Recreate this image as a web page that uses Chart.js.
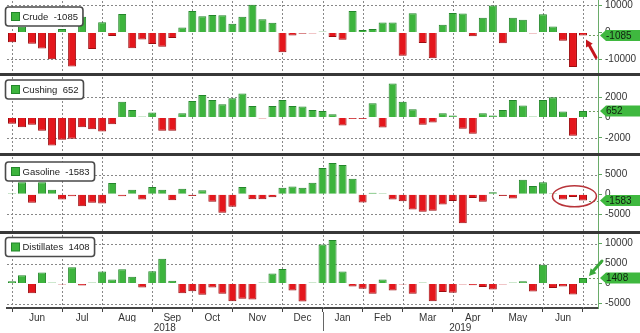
<!DOCTYPE html>
<html><head><meta charset="utf-8">
<script src="https://cdn.jsdelivr.net/npm/chart.js@4.4.1/dist/chart.umd.min.js"></script>
<style>
html,body{margin:0;padding:0;background:#fff;width:640px;height:333px;overflow:hidden;}
.wrap{position:absolute;left:0;width:640px;}
.sep{position:absolute;left:0;width:640px;height:3px;background:#383838;}
</style></head><body>
<div class="wrap" style="top:0;height:73px"><canvas id="c1"></canvas></div>
<div class="sep" style="top:73px"></div>
<div class="wrap" style="top:76px;height:77px"><canvas id="c2"></canvas></div>
<div class="sep" style="top:153px"></div>
<div class="wrap" style="top:156px;height:75px"><canvas id="c3"></canvas></div>
<div class="sep" style="top:231px"></div>
<div class="wrap" style="top:234px;height:99px"><canvas id="c4"></canvas></div>
<script>
// ---- DATA (thousand barrels, weekly change) ----
const weeks = ['2018-05-25','2018-06-01','2018-06-08','2018-06-15','2018-06-22','2018-06-29',
'2018-07-06','2018-07-13','2018-07-20','2018-07-27','2018-08-03','2018-08-10','2018-08-17','2018-08-24','2018-08-31',
'2018-09-07','2018-09-14','2018-09-21','2018-09-28','2018-10-05','2018-10-12','2018-10-19','2018-10-26',
'2018-11-02','2018-11-09','2018-11-16','2018-11-23','2018-11-30','2018-12-07','2018-12-14','2018-12-21','2018-12-28',
'2019-01-04','2019-01-11','2019-01-18','2019-01-25','2019-02-01','2019-02-08','2019-02-15','2019-02-22',
'2019-03-01','2019-03-08','2019-03-15','2019-03-22','2019-03-29','2019-04-05','2019-04-12','2019-04-19','2019-04-26',
'2019-05-03','2019-05-10','2019-05-17','2019-05-24','2019-05-31','2019-06-07','2019-06-14','2019-06-21','2019-06-28'];

const crude = [-3620,2075,-4143,-5914,-9891,1245,-12633,5836,-6147,3803,-1352,6805,-5836,-2566,-4302,
-5296,-2057,1852,7975,5987,6490,6346,3217,5783,10270,4851,3577,-7323,-1168,-497,-46,7,
-1680,-2683,7970,919,1255,3633,3672,-8647,7069,-3862,-9589,2800,7238,7029,-1396,5479,9934,
-3963,5431,4740,-282,6771,2207,-3106,-12788,-1085];

const cushing = [-620,-950,-720,-1300,-2750,-2200,-2100,-950,-1150,-1370,-650,1570,750,50,490,
-1300,-1300,420,1630,2220,1730,1300,1900,2380,1140,-100,1140,1730,1140,1080,750,650,
330,-780,-150,-150,1400,-980,3360,1570,820,-720,-490,420,200,-1100,-1600,420,200,
750,1730,1180,20,1730,2000,590,-1790,652];

const gasoline = [250,3080,-2170,3080,1170,-1330,-500,-3000,-2170,-2330,2830,-500,1170,-1330,1830,
1170,-1500,1420,-420,1000,-1920,-4670,-3170,1830,-1250,-1250,-750,1670,2000,1670,2920,6670,
7920,7420,3920,-2080,400,250,-1330,-1750,-3830,-4420,-4170,-2580,-1670,-7330,-920,-1920,500,
-420,-1080,3670,2080,3080,100,-1330,-670,-1583];

const distillates = [600,2100,-2400,2800,50,-50,4100,-500,50,3000,1000,3600,1700,-1000,3100,
6200,700,-2400,-1900,-2800,-1000,-2550,-4400,-3800,-4000,80,2550,3650,-1700,-4500,30,9770,
10880,3000,-700,-1300,-2550,1000,-1700,-250,-2550,150,-4400,-2100,-2300,-50,-400,-850,-1500,
-50,50,600,-2000,4700,-1100,-700,-2700,1408];

const seriesNames = ['Crude','Cushing','Gasoline','Distillates'];
const crudeTicks = [-10000,0,10000];
const cushingTicks = [-2000,0,2000];
const gasolineTicks = [-5000,0,5000];
const distillatesTicks = [-5000,0,5000,10000];
const monthTicks = ['Jun','Jul','Aug','Sep','Oct','Nov','Dec','Jan','Feb','Mar','Apr','May','Jun'];
const yearTicks = ['2018','2019'];

// ---- derived layout helpers ----
const labels = weeks.concat(['']);
const isMonthEnd = weeks.map((d,i)=> i===weeks.length-1 || weeks[i+1].slice(5,7)!==d.slice(5,7));
const monthEndIdx = weeks.map((d,i)=>i).filter(i=>isMonthEnd[i]);
const monthPos = monthEndIdx.slice(1).map((v,k)=>(monthEndIdx[k]+v)/2);
const yearEnd = weeks.findIndex((d,i)=> i<weeks.length-1 && weeks[i+1].slice(0,4)!==d.slice(0,4));
const yearPos = [(-0.5+yearEnd)/2, (yearEnd+weeks.length+0.5)/2];

const GREEN='#3db43d', GREEN_D='#23862a', RED='#e4161c', RED_D='#9c0d10';
const FONT='"Liberation Sans", Arial, sans-serif';
const GRID='#888888';

function drawArrow(ctx,x0,y0,x1,y1,color,w){
  const ang=Math.atan2(y1-y0,x1-x0), hl=8;
  ctx.strokeStyle=color; ctx.fillStyle=color; ctx.lineWidth=w; ctx.lineCap='round';
  ctx.beginPath(); ctx.moveTo(x0,y0); ctx.lineTo(x1-Math.cos(ang)*hl*0.7,y1-Math.sin(ang)*hl*0.7); ctx.stroke();
  ctx.beginPath(); ctx.moveTo(x1,y1);
  ctx.lineTo(x1-hl*Math.cos(ang-0.5),y1-hl*Math.sin(ang-0.5));
  ctx.lineTo(x1-hl*Math.cos(ang+0.5),y1-hl*Math.sin(ang+0.5));
  ctx.closePath(); ctx.fill();
}

function drawGrid(chart){
  const ctx=chart.ctx, ca=chart.chartArea, xs=chart.scales.x, ys=chart.scales.y;
  ctx.save();
  ctx.strokeStyle=GRID; ctx.lineWidth=1; ctx.setLineDash([2,2]);
  for(const i of monthEndIdx){
    const x=Math.round(xs.getPixelForValue(i))+0.5;
    ctx.beginPath(); ctx.moveTo(x,ca.top+1); ctx.lineTo(x,ca.bottom); ctx.stroke();
  }
  for(const t of ys.ticks){
    if(t.value===0) continue;
    const y=Math.round(ys.getPixelForValue(t.value))+0.5;
    ctx.beginPath(); ctx.moveTo(ca.left,y); ctx.lineTo(ca.right,y); ctx.stroke();
  }
  ctx.restore();
}

const decor = {
  id:'decor',
  beforeDatasetsDraw(chart){ drawGrid(chart); },
  afterDraw(chart, args, o){
    const ctx=chart.ctx, ca=chart.chartArea, ys=chart.scales.y;
    const meta=chart.getDatasetMeta(0), n=meta.data.length, last=meta.data[n-1];
    const vals=chart.data.datasets[0].data, v=vals[n-1];
    const yv=ys.getPixelForValue(v);
    ctx.save();
    // dotted level line
    ctx.strokeStyle='#6f9a5f'; ctx.lineWidth=1; ctx.setLineDash([2,2]);
    ctx.beginPath(); ctx.moveTo(last.x+6,Math.round(yv)+0.5); ctx.lineTo(ca.right,Math.round(yv)+0.5); ctx.stroke();
    ctx.setLineDash([]);
    // value tag
    const x0=ca.right+2, h=11;
    ctx.fillStyle='#3fb83f';
    ctx.beginPath(); ctx.moveTo(x0,yv); ctx.lineTo(x0+6,yv-h/2); ctx.lineTo(640,yv-h/2); ctx.lineTo(640,yv+h/2); ctx.lineTo(x0+6,yv+h/2); ctx.closePath(); ctx.fill();
    ctx.fillStyle='#102010'; ctx.font='10px '+FONT; ctx.textBaseline='middle'; ctx.textAlign='left';
    ctx.fillText(String(v), x0+6, yv+0.5);
    // legend box
    const txt=o.name+'  '+v;
    ctx.font='9.5px '+FONT;
    const tw=ctx.measureText(txt).width;
    const bx=5.5, by=o.by+0.5, bw=tw+22, bh=19;
    ctx.fillStyle='#fff'; ctx.strokeStyle='#4a4a4a'; ctx.lineWidth=1.6;
    ctx.beginPath(); ctx.roundRect(bx,by,bw,bh,3); ctx.fill(); ctx.stroke();
    ctx.fillStyle=GREEN; ctx.fillRect(bx+6,by+5.5,8,8);
    ctx.strokeStyle=GREEN_D; ctx.lineWidth=1; ctx.strokeRect(bx+6,by+5.5,8,8);
    ctx.fillStyle='#222'; ctx.textBaseline='middle';
    ctx.fillText(txt,bx+17,by+bh/2+0.5);
    // annotations
    if(o.ann==='redArrow'){
      const tx=last.x+3, ty=Math.max(last.y,last.base)+4;
      drawArrow(ctx,tx+10,ty+18,tx,ty,'#c4161c',3);
    } else if(o.ann==='ellipse'){
      const a=meta.data[n-3];
      ctx.strokeStyle='#b8343a'; ctx.lineWidth=1.5;
      ctx.beginPath(); ctx.ellipse((a.x+last.x)/2+1.5, ys.getPixelForValue(0)+2, 22, 10.5, 0, 0, Math.PI*2); ctx.stroke();
    } else if(o.ann==='greenArrow'){
      const tx=last.x+6, ty=last.y-2;
      drawArrow(ctx,tx+13,ty-15,tx,ty,'#3aa83a',3);
    }
    ctx.restore();
  }
};

function yAxis(min,max,ticks){
  return {
    position:'right', min, max,
    afterBuildTicks:s=>{ s.ticks=ticks.map(t=>({value:t})); },
    afterFit:s=>{ s.width=42; s.paddingTop=0; s.paddingBottom=0; },
    ticks:{ color:'#333', font:{family:FONT,size:10}, padding:3, callback:v=>String(v) },
    grid:{ drawOnChartArea:false, drawTicks:true, tickLength:4, tickColor:'#5ea85e', tickWidth:1 },
    border:{ display:true, color:'#6aac6a', width:1 }
  };
}

function makeChart(id, vals, min, max, ticks, name, by, ann, bottom){
  const scales = {
    x:{ type:'category', offset:true,
        ticks:{display:false, autoSkip:false},
        grid:{ offset:false, drawOnChartArea:false, drawTicks:!!bottom, tickLength:4,
               tickColor:c=> isMonthEnd[c.index] ? '#444' : 'rgba(0,0,0,0)', tickWidth:1 },
        border:{ display:!!bottom, color:'#444', width:2 },
        afterFit:s=>{ s.height = bottom ? 4 : 0; s.paddingLeft=0; s.paddingRight=0; } },
    y: yAxis(min,max,ticks)
  };
  if(bottom){
    scales.xm = { type:'linear', position:'bottom', min:-0.5, max:weeks.length+0.5, offset:false,
      afterBuildTicks:s=>{ s.ticks=monthPos.map(p=>({value:p})); },
      afterFit:s=>{ s.height=10; s.paddingLeft=0; s.paddingRight=0; },
      ticks:{ autoSkip:false, maxRotation:0, padding:0, color:'#333', font:{family:FONT,size:10}, callback:(v,i)=>monthTicks[i] },
      grid:{display:false, drawTicks:false}, border:{display:false} };
    scales.xy = { type:'linear', position:'bottom', min:-0.5, max:weeks.length+0.5, offset:false,
      afterBuildTicks:s=>{ s.ticks=yearPos.map(p=>({value:p})); },
      afterFit:s=>{ s.height=11; s.paddingLeft=0; s.paddingRight=0; },
      ticks:{ autoSkip:false, maxRotation:0, padding:0, color:'#333', font:{family:FONT,size:10}, callback:(v,i)=>yearTicks[i] },
      grid:{display:false, drawTicks:false}, border:{display:false} };
  }
  const plugins=[decor];
  if(bottom){
    plugins.push({ id:'yearSep', afterDraw(chart){
      const ctx=chart.ctx, x=Math.round(chart.scales.x.getPixelForValue(yearEnd))+0.5, b=chart.chartArea.bottom;
      ctx.save(); ctx.strokeStyle='#666'; ctx.lineWidth=1;
      ctx.beginPath(); ctx.moveTo(x,b+4); ctx.lineTo(x,b+23); ctx.stroke(); ctx.restore();
    }});
  }
  return new Chart(document.getElementById(id), {
    type:'bar',
    data:{ labels, datasets:[{ data:vals,
      backgroundColor: vals.map(v=>v>=0?GREEN:RED),
      borderColor: vals.map(v=>v>=0?GREEN_D:RED_D),
      borderWidth:1, borderSkipped:'start', minBarLength:1,
      barPercentage:0.8, categoryPercentage:1 }] },
    options:{ responsive:true, maintainAspectRatio:false, animation:false, devicePixelRatio:1,
      layout:{ padding:{left:7,right:0,top:0,bottom:0} },
      plugins:{ legend:{display:false}, tooltip:{enabled:false}, decor:{name, by, ann} },
      scales },
    plugins
  });
}

makeChart('c1', crude, -15000, 12000, crudeTicks, seriesNames[0], 6.5, 'redArrow', false);
makeChart('c2', cushing, -3500, 4100, cushingTicks, seriesNames[1], 3.5, null, false);
makeChart('c3', gasoline, -9300, 9700, gasolineTicks, seriesNames[2], 5.5, 'ellipse', false);
makeChart('c4', distillates, -6100, 12400, distillatesTicks, seriesNames[3], 3, 'greenArrow', true);
</script>
</body></html>
